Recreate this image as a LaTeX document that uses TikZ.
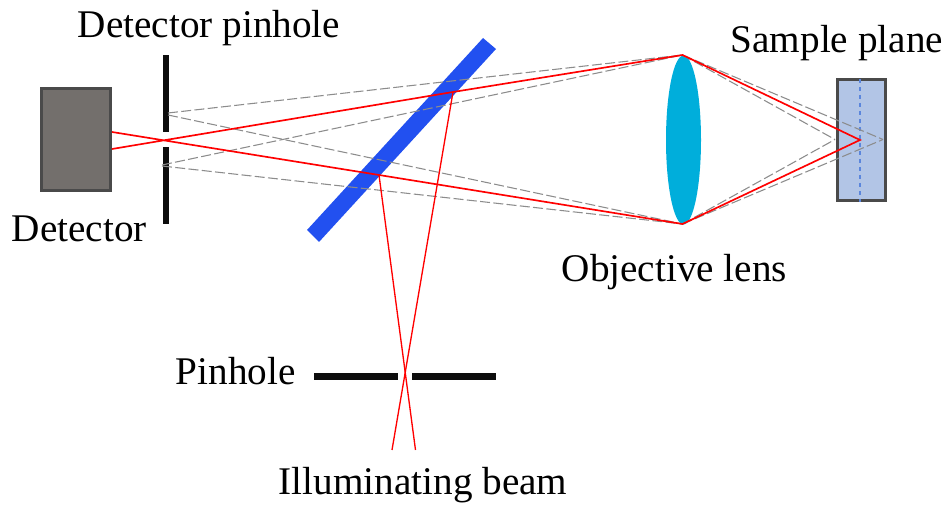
\documentclass[tikz,border=0pt]{standalone}
\usepackage{fontspec}
\setmainfont{Liberation Serif}
\usepackage{xcolor}
\definecolor{graybox}{HTML}{736F6C}
\definecolor{darkedge}{HTML}{4A4A4A}
\definecolor{lensblue}{HTML}{00AEDB}
\definecolor{splitblue}{HTML}{2250F0}
\definecolor{samplefill}{HTML}{B2C5E6}
\definecolor{planeblue}{HTML}{5B86DC}
\definecolor{raygray}{HTML}{8C8C8C}
\tikzset{
  every node/.append style={font=\fontsize{29.4pt}{32pt}\selectfont,inner sep=0pt},
  label/.style={anchor=base west},
  ray/.style={red,line width=1.25pt},
  ghost/.style={raygray,line width=0.8pt,dash pattern=on 7.5pt off 2.5pt},
  stop/.style={fill=black!95}
}
\begin{document}
\begin{tikzpicture}[x=0.75pt,y=-0.75pt]
  \useasboundingbox (0,0) rectangle (946,505);
  % parts
  \draw[fill=graybox,draw=darkedge,line width=1.7pt] (41.5,88.5) rectangle (110.5,190.5);
  \fill[stop] (163,55) rectangle (169,132);
  \fill[stop] (163,147) rectangle (169,224);
  \fill[stop] (314,373) rectangle (398,380);
  \fill[stop] (412,373) rectangle (496,380);
  \fill[splitblue] (483,38)--(496,49)--(319,242)--(307,230)--cycle;
  \fill[lensblue] (683.5,140) ellipse[x radius=17.5,y radius=84.5];
  \draw[fill=samplefill,draw=darkedge,line width=1.7pt] (837.5,79.5) rectangle (885.5,200.5);
  \draw[planeblue,line width=0.8pt,dashed] (860,79)--(860,202);
  % ray points
  \coordinate (lensT) at (682.5,55);
  \coordinate (lensB) at (682.5,224);
  \coordinate (focus) at (860,140);
  \coordinate (focusA) at (835,139.5);
  \coordinate (focusB) at (883,139.5);
  \coordinate (detA) at (112,132);
  \coordinate (detB) at (112,149);
  \coordinate (splitA) at (379,175);
  \coordinate (splitB) at (453,92);
  \coordinate (beamA) at (415.5,450);
  \coordinate (beamB) at (392,450);
  \coordinate (holeA) at (168,113);
  \coordinate (holeB) at (168,115);
  \coordinate (holeC) at (162,165);
  \coordinate (holeD) at (162,166);
  % out of focus
  \draw[ghost] (holeA)--(lensT);
  \draw[ghost] (holeB)--(lensB);
  \draw[ghost] (holeC)--(lensT);
  \draw[ghost] (holeD)--(lensB);
  \foreach \e in {lensT,lensB} {
    \draw[ghost] (\e)--(focusA);
    \draw[ghost] (\e)--(focusB);
  }
  % in focus
  \draw[ray] (detA)--(splitA)--(lensB)--(focus)--(lensT)--(splitB)--(detB);
  \draw[ray,line width=1pt] (beamA)--(splitA);
  \draw[ray,line width=1pt] (beamB)--(splitB);
  % labels
  \node[label] (detectorpinholelabel) at (77.5,38) {Detector pinhole};
  \node[label] (samplelabel) at (730.5,53) {Sample plane};
  \node[label] (detectorlabel) at (11.5,242) {Detector};
  \node[label] (lenslabel) at (561.5,282) {Objective lens};
  \node[label] (pinholelabel) at (175.5,385) {Pinhole};
  \node[label] (beamlabel) at (278.5,495) {Illuminating beam};
\end{tikzpicture}
\end{document}
